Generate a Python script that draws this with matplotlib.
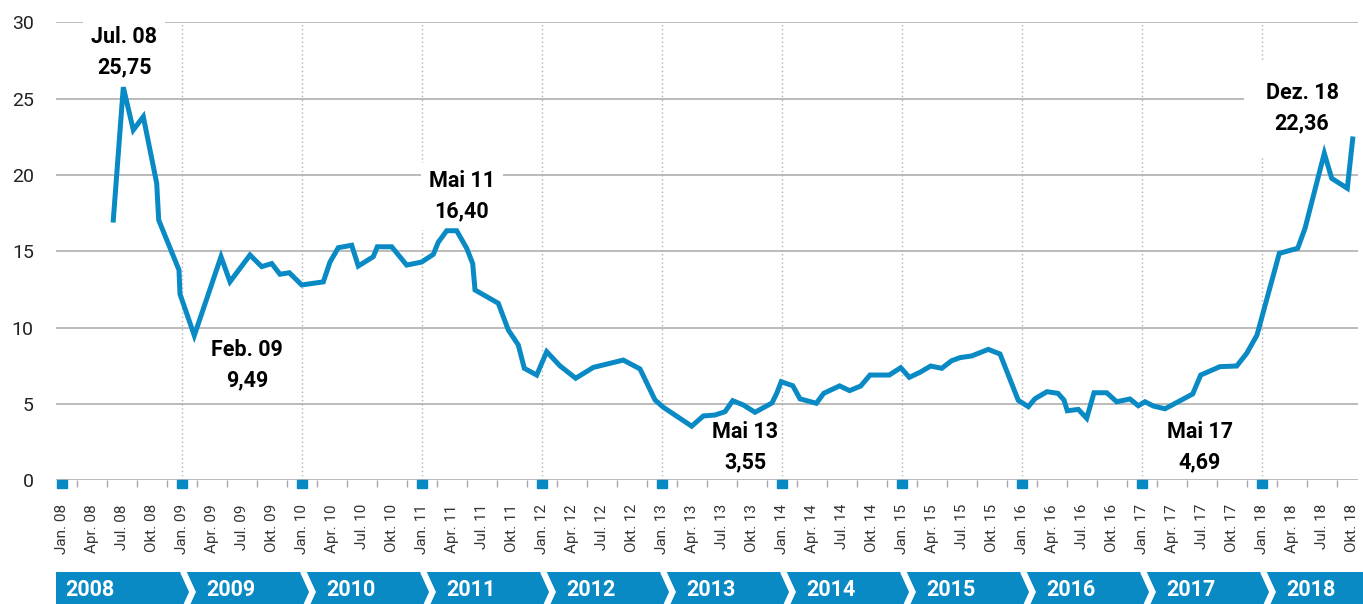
import numpy as np
import matplotlib
matplotlib.use("Agg")
import matplotlib.pyplot as plt
from matplotlib.patches import Rectangle

plt.rcParams['font.family'] = ['Roboto', 'DejaVu Sans']

# months since Jan. 08 and value
months = [5.13, 6.13, 7.13, 8.13, 9.47, 9.67, 11.7, 11.8, 13.23, 15.9,
          16.8, 18.8, 19.97, 20.97, 21.8, 22.73, 23.97, 26.13, 26.8, 27.63,
          28.97, 29.63, 31.13, 31.53, 32.97, 34.47, 35.97, 37.13, 37.63, 38.47,
          39.47, 40.47, 41.07, 41.3, 43.63, 44.63, 45.63, 46.23, 47.47, 48.47,
          49.8, 51.37, 53.13, 56.13, 57.8, 59.3, 60.13, 62.97, 64.13, 65.3,
          66.3, 67.07, 68.13, 69.3, 71.0, 71.47, 71.92, 73.08, 73.8, 75.43,
          76.17, 77.76, 78.76, 79.87, 80.8, 82.73, 83.87, 84.73, 85.8, 86.87,
          87.97, 88.97, 89.8, 90.97, 92.63, 93.8, 95.63, 96.63, 97.3, 98.5,
          99.6, 100.2, 100.53, 101.63, 102.47, 103.2, 104.47, 105.47, 106.8, 107.63,
          108.3, 109.13, 110.3, 113.07, 113.87, 115.8, 117.47, 118.47, 119.5, 121.73,
          123.57, 124.3, 126.23, 126.97, 128.53, 129.07]
values = [17.05, 25.75, 22.95, 23.82, 19.46, 17.05, 13.78, 12.2, 9.49, 14.65,
          13.01, 14.76, 14.0, 14.2, 13.5, 13.6, 12.8, 13.0, 14.3, 15.24,
          15.4, 14.04, 14.65, 15.3, 15.3, 14.1, 14.3, 14.8, 15.6, 16.35,
          16.35, 15.2, 14.2, 12.47, 11.6, 9.85, 8.87, 7.34, 6.9, 8.43,
          7.5, 6.69, 7.4, 7.88, 7.3, 5.27, 4.79, 3.55, 4.22, 4.28,
          4.5, 5.22, 4.94, 4.46, 5.07, 5.7, 6.46, 6.2, 5.34, 5.05,
          5.7, 6.19, 5.88, 6.18, 6.9, 6.9, 7.38, 6.75, 7.08, 7.49,
          7.34, 7.84, 8.04, 8.15, 8.58, 8.28, 5.24, 4.83, 5.35, 5.81,
          5.7, 5.26, 4.56, 4.65, 4.07, 5.74, 5.74, 5.15, 5.33, 4.89,
          5.15, 4.87, 4.69, 5.66, 6.9, 7.45, 7.49, 8.32, 9.52, 14.87,
          15.2, 16.5, 21.42, 19.78, 19.13, 22.36]

years = list(range(2008, 2019))
month_names = ['Jan.', 'Apr.', 'Jul.', 'Okt.']
tick_labels = ['%s %02d' % (m, y % 100) for y in years for m in month_names]

# annotations: text, month position, value position, white box pad (None = no box)
notes = [('Jul. 08\n25,75', 6.2, 28.05, 0.35),
         ('Feb. 09\n9,49', 18.5, 7.55, None),
         ('Mai 11\n16,40', 40.0, 18.6, 0.35),
         ('Mai 13\n3,55', 68.3, 2.15, None),
         ('Mai 17\n4,69', 113.8, 2.15, None),
         ('Dez. 18\n22,36', 124.0, 24.35, 1.0)]

blue = '#0a8ac4'
grid_c = '#a8a8a8'

W, H = 1363, 604
fig = plt.figure(figsize=(W / 100, H / 100), dpi=100)
x0, x1 = 56, 1358
y0, y30 = 480.4, 22.3
ax = fig.add_axes([x0 / W, (H - y0) / H, (x1 - x0) / W, (y0 - y30) / H])
ax.set_xlim(-0.6, -0.6 + (x1 - x0) / 10)
ax.set_ylim(0, 30)

for s in ax.spines.values():
    s.set_visible(False)

ax.set_yticks(range(0, 31, 5))
ax.yaxis.grid(True, color=grid_c, lw=1.1)
ax.set_axisbelow(True)
ax.tick_params(axis='y', length=0, pad=16, labelsize=14, labelcolor='#222222')

ax.set_xticks(np.arange(0, 130, 3))
ax.set_xticklabels(tick_labels, rotation=90, fontsize=11, color='#333333')
ax.set_xticks(np.arange(1.5, 129, 3), minor=True)
ax.tick_params(axis='x', which='major', length=0, pad=17)
ax.tick_params(axis='x', which='minor', length=5, width=1, color=grid_c)

# january dotted lines and markers
for i, y in enumerate(years):
    jan = 12 * i
    if i > 0:
        ax.axvline(jan, color='#b0b0b0', ls=(0, (1, 2)), lw=1, zorder=1)
    ax.add_patch(Rectangle((jan - 0.5, 0), 1, -8 / (y0 - y30), color=blue,
                           transform=ax.get_xaxis_transform(), clip_on=False, zorder=5))

ax.plot(months, values, color=blue, lw=3.6, solid_joinstyle='miter', zorder=4)

for txt, mx, vy, pad in notes:
    box = None
    if pad is not None:
        box = dict(facecolor='white', edgecolor='none', boxstyle='square,pad=%s' % pad)
    ax.text(mx, vy, txt, ha='center', va='center', fontsize=15.5, fontweight='bold',
            linespacing=1.5, zorder=3, bbox=box)

# year band
band = fig.add_axes([x0 / W, (H - 612) / H, (W - x0) / W, 40 / H])
band.set_xlim(-0.6, -0.6 + (W - x0) / 10)
band.set_ylim(0, 1)
band.axis('off')
band.add_patch(Rectangle((-0.6, 0), 200, 1, color=blue))
for i, y in enumerate(years):
    jan = 12 * i
    if i > 0:
        band.plot([jan + 0.1, jan + 1.05, jan + 0.1], [1.02, 0.5, -0.02], color='white',
                  lw=4.5, solid_joinstyle='miter', solid_capstyle='butt')
    band.text(jan + (0.3 if i == 0 else 2.4), 0.56, str(y), color='white',
              fontsize=15.5, fontweight='bold', ha='left', va='center')

fig.savefig('out.png', dpi=100)
